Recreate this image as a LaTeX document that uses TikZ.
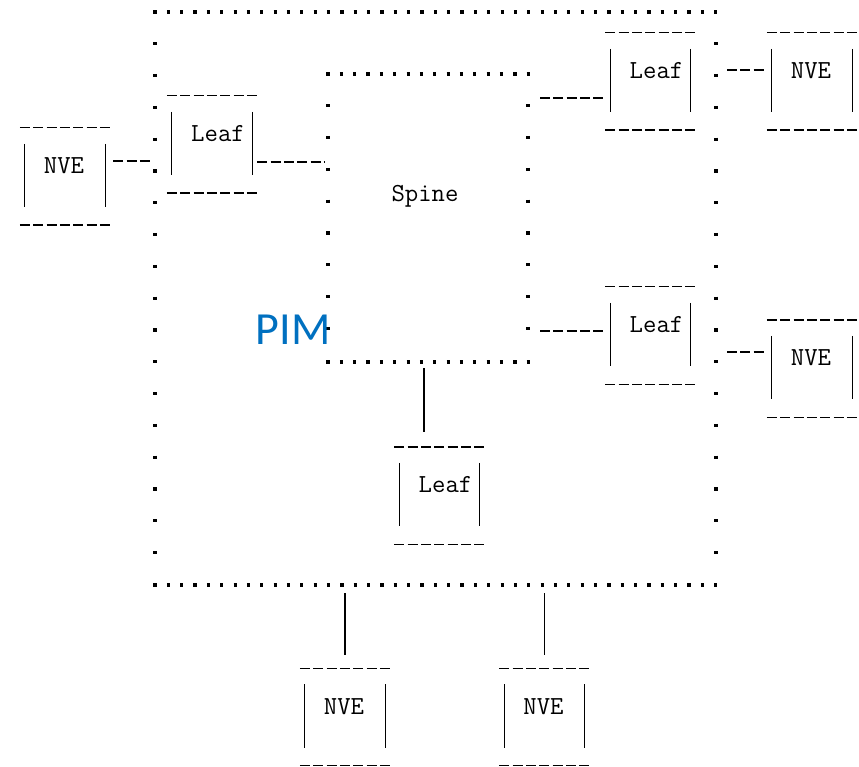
\documentclass[tikz,border=0pt]{standalone}
\usepackage{fontspec}
\newfontfamily\pimfont{Carlito}
\usetikzlibrary{calc}
\definecolor{pimblue}{HTML}{0070C0}
\tikzset{
  asciibox/.style={minimum width=90pt, minimum height=97pt, inner sep=0pt},
  boxtext/.style={font=\ttfamily\fontsize{26}{26}\selectfont, inner sep=0pt},
  leafbox/.style={asciibox, label={[boxtext, xshift=6pt, yshift=10.5pt]center:#1}},
  nvebox/.style={asciibox, label={[boxtext, xshift=-1pt, yshift=10.5pt]center:#1}},
  dashrule/.style={line width=1.4pt, dash pattern=on 10pt off 3.35pt},
  bar/.style={line width=1.3pt},
  hdots/.style={line width=3.2pt, dash pattern=on 3.2pt off 10.15pt},
  vdots/.style={line width=3.2pt, dash pattern=on 3.2pt off 28.6pt},
}

\begin{document}
\begin{tikzpicture}[x=1pt, y=-1pt]
  \useasboundingbox (0,0) rectangle (859,767);

  % dotted frames
  \coordinate (pimNW) at (155,12);
  \coordinate (pimSE) at (716,585);
  \coordinate (spineNW) at (328,74);
  \coordinate (spineSE) at (528,362);

  \draw[hdots] ($(pimNW)+(-1.6,0)$) -- ($(pimNW -| pimSE)+(1.6,0)$);
  \draw[hdots] ($(pimNW |- pimSE)+(-1.6,0)$) -- ($(pimSE)+(1.6,0)$);
  \draw[vdots] ($(pimNW)+(0,30.2)$) -- ($(pimNW |- pimSE)+(0,-30.2)$);
  \draw[vdots] ($(pimNW -| pimSE)+(0,30.2)$) -- ($(pimSE)+(0,-30.2)$);

  \draw[hdots] ($(spineNW)+(-1.6,0)$) -- ($(spineNW -| spineSE)+(1.6,0)$);
  \draw[hdots] ($(spineNW |- spineSE)+(-1.6,0)$) -- ($(spineSE)+(1.6,0)$);
  \draw[vdots] ($(spineNW)+(0,30.2)$) -- ($(spineNW |- spineSE)+(0,-30.2)$);
  \draw[vdots] ($(spineNW -| spineSE)+(0,30.2)$) -- ($(spineSE)+(0,-30.2)$);

  \node[boxtext] (spinelbl) at (425,196) {Spine};
  \node[font=\pimfont\fontsize{46}{46}\selectfont, text=pimblue, inner sep=0pt] (pimlbl) at (293,330) {PIM};

  % boxes
  \node[nvebox=NVE] (n1) at (65,176.5) {};
  \node[leafbox=Leaf] (l1) at (212,144.5) {};
  \node[leafbox=Leaf] (l2) at (650.5,81.5) {};
  \node[nvebox=NVE] (n2) at (812,81.5) {};
  \node[leafbox=Leaf] (l3) at (650.5,335.5) {};
  \node[nvebox=NVE] (n3) at (812,368.5) {};
  \node[leafbox=Leaf] (l4) at (439.5,495.5) {};
  \node[nvebox=NVE] (n4) at (345,717) {};
  \node[nvebox=NVE] (n5) at (544.5,717) {};

  \foreach \b in {n1,l1,l2,n2,l3,n3,l4,n4,n5} {
    \draw[dashrule] (\b.north west) -- (\b.north east);
    \draw[dashrule] (\b.south west) -- (\b.south east);
    \draw[bar] ($(\b.north west)+(5,16)$) -- ($(\b.south west)+(5,-18)$);
    \draw[bar] ($(\b.north east)+(-5,16)$) -- ($(\b.south east)+(-5,-18)$);
  }

  % links
  \draw[dashrule] ($(n1.east)+(3,-15.5)$) -- ($(n1.east -| pimNW)+(-5,-15.5)$);
  \draw[dashrule] ($(l1.east)+(0,17.5)$) -- ($(l1.east -| spineNW)+(-3,17.5)$);
  \draw[dashrule] ($(l2.west -| spineSE)+(12,16.5)$) -- ($(l2.west)+(0,16.5)$);
  \draw[dashrule] ($(n2.west -| pimSE)+(11,-11.5)$) -- ($(n2.west)+(-2,-11.5)$);
  \draw[dashrule] ($(l3.west -| spineSE)+(12,-4.5)$) -- ($(l3.west)+(0,-4.5)$);
  \draw[dashrule] ($(n3.west -| pimSE)+(11,-16.5)$) -- ($(n3.west)+(-2,-16.5)$);
  \draw[bar] ($(l4.north |- spineSE)+(-15.5,6)$) -- ($(l4.north)+(-15.5,-15)$);
  \draw[bar] ($(n4.north |- pimSE)+(0,8)$) -- ($(n4.north)+(0,-13.5)$);
  \draw[bar] ($(n5.north |- pimSE)+(0,8)$) -- ($(n5.north)+(0,-13.5)$);
\end{tikzpicture}
\end{document}
